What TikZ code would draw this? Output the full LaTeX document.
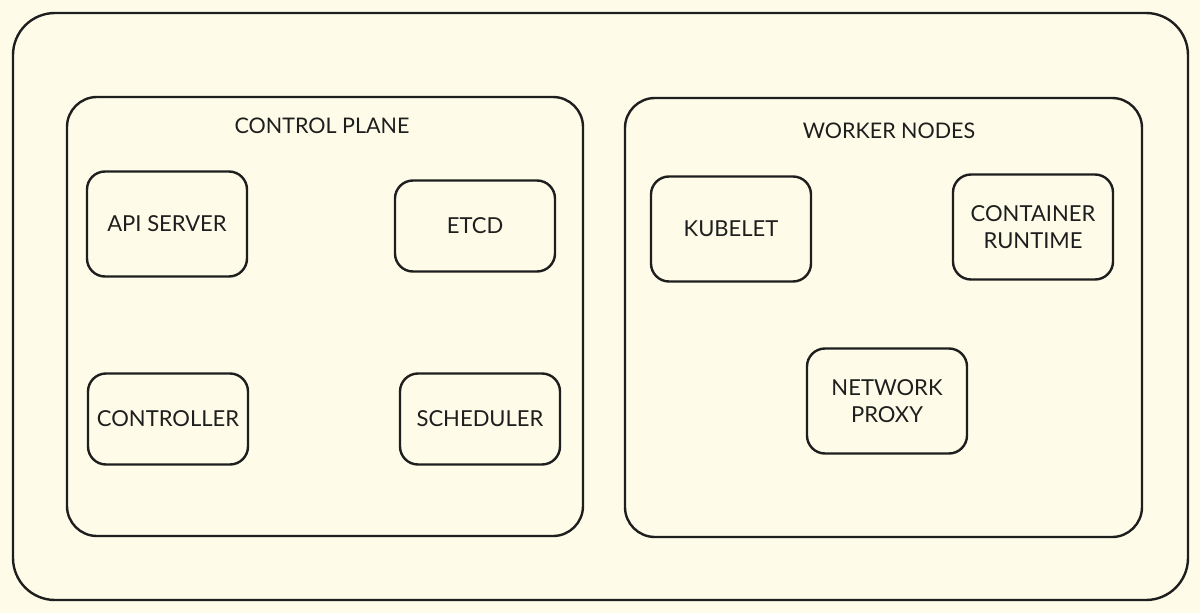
\documentclass[tikz,border=0pt]{standalone}
\usepackage{fontspec}
\setmainfont{Lato}
\definecolor{bg}{HTML}{FEFCE8}
\definecolor{ink}{HTML}{1E1E1E}
\begin{document}
\begin{tikzpicture}[x=1pt,y=-1pt,
  frame/.style={draw=ink, line width=2.4pt, rounded corners=#1},
  comp/.style={draw=ink, line width=2.4pt, rounded corners=18pt, minimum width=160pt, minimum height=#1, align=center, text=ink, font=\fontsize{22}{27}\selectfont, inner sep=0pt},
  comp/.default=98pt,
  title/.style={text=ink, font=\fontsize{21.5}{26}\selectfont}]
\fill[bg] (0,0) rectangle (1200,613);
\useasboundingbox (0,0) rectangle (1200,613);
\draw[frame=42pt] (13,13) rectangle (1188,600);
\draw[frame=30pt] (67,97) rectangle (583,536);
\draw[frame=30pt] (625,98) rectangle (1142,537);
\node[title] (cp) at (322,126) {CONTROL PLANE};
\node[title] (wn) at (889,131) {WORKER NODES};
\node[comp=105pt] (api) at (167,224) {API SERVER};
\node[comp=91pt] (etcd) at (475,226) {ETCD};
\node[comp=91pt] (ctrl) at (168,419) {CONTROLLER};
\node[comp=91pt] (sched) at (480,419) {SCHEDULER};
\node[comp=105pt] (kub) at (731,229) {KUBELET};
\node[comp=105pt] (cr) at (1033,227) {CONTAINER\\RUNTIME};
\node[comp=105pt] (np) at (887,401) {NETWORK\\PROXY};
\end{tikzpicture}
\end{document}
